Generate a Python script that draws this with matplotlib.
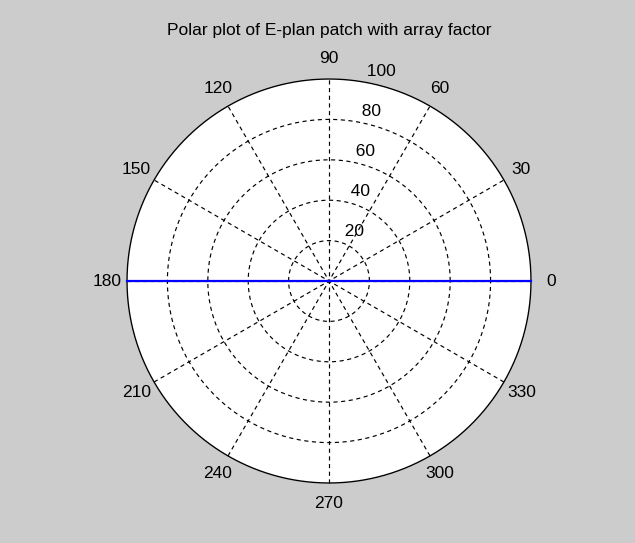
import numpy as np
import matplotlib
matplotlib.use('Agg')
import matplotlib.pyplot as plt

# pattern data (degrees, magnitude)
theta_deg = [180, 0]
r_vals = [100, 100]

rmax = 100
ring_vals = [20, 40, 60, 80, 100]
spoke_angles = [0, 30, 60, 90, 120, 150]
angle_labels = ['0', '30', '60', '90', '120', '150', '180', '210', '240', '270', '300', '330']

plt.rcParams['font.family'] = ['Liberation Sans', 'DejaVu Sans']
fs = 12.5

fig = plt.figure(figsize=(6.35, 5.43), dpi=100, facecolor='#cccccc')
# square axes centred on the polar disc
half = 125
ax = fig.add_axes([76.5 / 635, (543 - 533.5) / 543, 505 / 635, 505 / 543])
ax.set_xlim(-half, half)
ax.set_ylim(-half, half)
ax.axis('off')

# white background disc
t = np.linspace(0, 2 * np.pi, 361)
ax.fill(rmax * np.cos(t), rmax * np.sin(t), color='white', zorder=1)
ax.plot(rmax * np.cos(t), rmax * np.sin(t), color='black', lw=1.0, zorder=3)

# dashed rings and spokes
dash = (0, (3.5, 3))
for rv in ring_vals[:-1]:
    ax.plot(rv * np.cos(t), rv * np.sin(t), color='black', lw=0.85, ls=dash, zorder=2)
for a in spoke_angles:
    ar = np.deg2rad(a)
    ax.plot([-rmax * np.cos(ar), rmax * np.cos(ar)], [-rmax * np.sin(ar), rmax * np.sin(ar)],
            color='black', lw=0.85, ls=dash, zorder=2)

# ring labels along 82 degrees
c82, s82 = np.cos(np.deg2rad(82)), np.sin(np.deg2rad(82))
for rv in ring_vals:
    ax.text((rv + 1) * c82, (rv + 1) * s82, '  ' + str(rv), ha='left', va='bottom',
            fontsize=fs, color='black', zorder=4)

# angle labels
for i, lab in enumerate(angle_labels):
    ar = np.deg2rad(i * 30)
    ax.text(1.1 * rmax * np.cos(ar), 1.1 * rmax * np.sin(ar), lab, ha='center', va='center',
            fontsize=fs, color='black')

# pattern trace
th = np.deg2rad(theta_deg)
ax.plot(np.array(r_vals) * np.cos(th), np.array(r_vals) * np.sin(th), color='blue', lw=1.6, zorder=5)

fig.text(329 / 635, 1 - 31 / 543, 'Polar plot of E-plan patch with array factor',
         ha='center', va='center', fontsize=fs, color='black')

fig.savefig('out.png', dpi=100, facecolor=fig.get_facecolor())
